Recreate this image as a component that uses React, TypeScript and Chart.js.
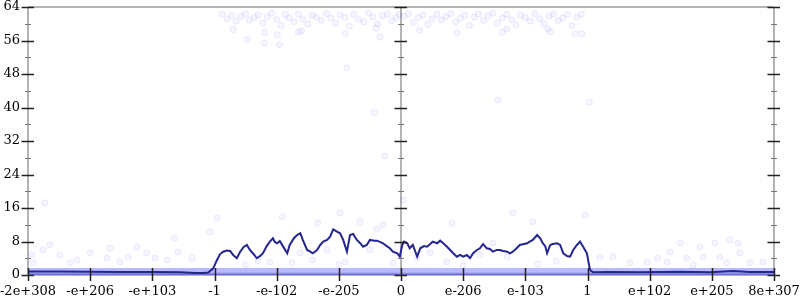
import React, { useEffect, useRef } from "react";
import { Chart, registerables } from "chart.js";
Chart.register(...registerables);

// x axis: 13 evenly spaced category ticks (positions -6..6)
const xTickLabels = ["-2e+308", "-e+206", "-e+103", "-1", "-e-102", "-e-205", "0", "e-206", "e-103", "1", "e+102", "e+205", "8e+307"];
const xTickPos = [-6, -5, -4, -3, -2, -1, 0, 1, 2, 3, 4, 5, 6];
const yMajorTicks = [0, 8, 16, 24, 32, 40, 48, 56, 64];
const yMinorTicks = [4, 12, 20, 28, 36, 44, 52, 60];

// running average line
const lineX = [-6, -5.49, -5.0, -4.52, -4.0, -3.55, -3.31, -3.18, -3.1, -3.02, -2.96, -2.91, -2.86, -2.8, -2.75, -2.7, -2.64, -2.59, -2.53, -2.48, -2.43, -2.36, -2.32, -2.27, -2.22, -2.16, -2.11, -2.06, -2.03, -1.99, -1.95, -1.9, -1.83, -1.79, -1.72, -1.67, -1.62, -1.58, -1.51, -1.46, -1.42, -1.35, -1.3, -1.25, -1.19, -1.14, -1.09, -1.03, -0.98, -0.93, -0.87, -0.82, -0.77, -0.71, -0.66, -0.61, -0.55, -0.5, -0.43, -0.39, -0.34, -0.29, -0.23, -0.18, -0.13, -0.06, -0.02, 0.02, 0.05, 0.1, 0.14, 0.19, 0.26, 0.31, 0.37, 0.42, 0.47, 0.51, 0.58, 0.63, 0.68, 0.74, 0.79, 0.84, 0.9, 0.95, 1.0, 1.06, 1.11, 1.16, 1.22, 1.27, 1.32, 1.38, 1.43, 1.48, 1.54, 1.59, 1.64, 1.71, 1.75, 1.8, 1.86, 1.91, 1.98, 2.03, 2.07, 2.12, 2.19, 2.24, 2.28, 2.32, 2.35, 2.4, 2.44, 2.51, 2.56, 2.61, 2.67, 2.72, 2.77, 2.83, 2.88, 2.93, 2.99, 3.04, 3.09, 3.36, 3.84, 4.49, 4.97, 5.34, 5.61, 6.0];
const lineY = [0.84, 0.84, 0.79, 0.72, 0.72, 0.65, 0.48, 0.48, 0.6, 1.6, 3.6, 5.0, 5.57, 5.86, 5.74, 4.78, 4.0, 5.5, 6.7, 7.17, 5.98, 4.78, 4.0, 4.5, 5.2, 6.9, 7.96, 8.77, 7.9, 7.58, 8.1, 6.9, 5.2, 7.17, 8.84, 9.56, 9.97, 8.37, 5.98, 5.57, 5.19, 5.98, 7.17, 7.96, 8.37, 9.15, 10.9, 10.35, 9.97, 8.37, 5.57, 9.56, 9.8, 8.37, 7.65, 6.76, 7.17, 8.37, 8.2, 8.2, 7.9, 7.58, 6.9, 6.38, 5.57, 5.19, 4.37, 7.17, 7.96, 7.58, 6.38, 7.17, 4.37, 6.38, 6.9, 6.76, 7.4, 7.96, 7.58, 8.2, 7.58, 6.76, 5.98, 5.19, 4.37, 4.78, 4.37, 4.78, 4.0, 5.19, 5.98, 6.38, 7.4, 6.38, 6.2, 5.57, 5.98, 5.98, 5.74, 5.57, 5.19, 5.57, 6.38, 7.17, 7.4, 7.58, 7.96, 8.37, 9.56, 8.77, 7.58, 6.9, 5.19, 7.17, 7.4, 7.58, 7.17, 5.19, 4.54, 4.37, 5.98, 7.17, 7.96, 6.76, 5.19, 1.2, 0.65, 0.72, 0.65, 0.76, 0.65, 0.96, 0.72, 0.72];

// dense band of samples near zero
const bandX = [-6, 6];
const bandTop = [1.65, 1.65];
const bandCore = [0.55, 0.55];

// individual samples (x position, value)
const topCloud: [number, number][] = [
  [-2.88, 62.3], [-2.8, 61.2], [-2.72, 62.0], [-2.65, 60.6], [-2.58, 61.8], [-2.5, 62.4], [-2.44, 60.9], [-2.36, 61.5], [-2.3, 62.1], [-2.22, 60.2],
  [-2.15, 61.7], [-2.08, 62.5], [-2.0, 61.0], [-1.93, 59.6], [-1.86, 62.2], [-1.8, 61.4], [-1.72, 60.5], [-1.65, 62.3], [-1.58, 61.1], [-1.5, 59.9],
  [-1.43, 62.0], [-1.36, 61.6], [-1.28, 60.8], [-1.2, 62.4], [-1.13, 61.3], [-1.05, 60.1], [-0.98, 62.1], [-0.9, 61.5], [-0.83, 59.4], [-0.76, 62.2],
  [-0.68, 61.0], [-0.6, 60.4], [-0.52, 62.5], [-0.45, 61.6], [-0.38, 60.0], [-0.3, 61.9], [-0.22, 62.3], [-0.15, 60.7], [-0.08, 61.4], [-0.03, 62.2],
  [0.05, 61.8], [0.12, 62.4], [0.2, 60.3], [0.28, 61.5], [0.35, 62.1], [0.43, 59.8], [0.5, 61.2], [0.58, 62.3], [0.65, 60.9], [0.72, 61.7],
  [0.8, 62.4], [0.88, 60.4], [0.95, 61.3], [1.03, 62.0], [1.1, 59.6], [1.18, 61.6], [1.25, 62.3], [1.33, 60.8], [1.4, 61.9], [1.48, 62.5],
  [1.55, 60.2], [1.63, 61.4], [1.7, 62.2], [1.78, 61.0], [1.85, 59.7], [1.92, 62.1], [2.0, 61.5], [2.08, 60.6], [2.15, 62.4], [2.23, 61.2],
  [2.3, 60.0], [2.38, 61.8], [2.45, 62.3], [2.53, 60.7], [2.6, 61.4], [2.68, 62.2], [2.75, 59.5], [2.83, 61.6], [2.9, 62.3],
  [-2.7, 58.6], [-2.2, 57.9], [-1.6, 58.3], [-0.9, 57.7], [-0.4, 58.9], [0.3, 58.4], [0.9, 57.8], [1.7, 58.7], [2.4, 58.1], [2.8, 57.6],
  [-2.47, 56.2], [-2.2, 55.4], [-1.95, 55.0], [-1.99, 57.4], [-1.65, 58.0], [-0.34, 56.9], [1.63, 58.0], [2.91, 57.6], [2.36, 58.8],
];
const midCloud: [number, number][] = [
  [-0.87, 49.5], [1.56, 41.8], [3.03, 41.3], [-0.43, 38.8], [-0.26, 28.4], [0.03, 17.9], [-0.29, 12.0], [-0.39, 11.0], [-5.73, 17.2],
  [-1.91, 13.9], [-0.98, 14.8], [-0.66, 12.7], [-1.34, 12.4], [0.82, 12.4], [1.8, 14.8], [2.96, 14.3], [2.12, 12.7], [-2.96, 13.6], [-3.07, 10.3],
];
const lowCloud: [number, number][] = [
  [-5.65, 7.2], [-5.76, 6.0], [-5.49, 4.8], [-4.68, 6.4], [-4.25, 6.7], [-4.09, 5.3], [-3.64, 8.8], [-3.59, 5.5], [-5.0, 5.3], [-4.73, 4.0],
  [-4.52, 3.1], [-3.76, 3.6], [-5.21, 3.6], [-5.94, 4.8], [-5.92, 2.9], [-5.32, 2.9], [-3.36, 4.0], [-3.96, 4.0], [-4.39, 4.3],
  [-1.62, 5.3], [-1.19, 6.0], [-0.5, 6.0], [0.26, 4.0], [0.47, 5.3], [1.27, 4.8], [1.48, 7.6], [1.71, 4.3], [-2.11, 3.1], [-0.13, 2.9],
  [0.74, 3.1], [-1.75, 2.9], [-1.43, 3.6], [-0.9, 3.1], [4.49, 7.6], [4.81, 6.7], [5.29, 8.4], [5.42, 7.6], [4.33, 5.5], [5.05, 7.6],
  [5.45, 5.3], [5.82, 3.1], [3.41, 4.3], [3.2, 4.3], [3.96, 3.1], [4.13, 4.0], [4.6, 4.0], [4.86, 4.3], [5.13, 4.3], [3.68, 2.9],
  [4.28, 3.1], [4.7, 2.4], [5.24, 2.9], [5.61, 2.9], [-2.5, 2.4], [-2.3, 3.4], [2.2, 2.6], [2.5, 3.3], [1.0, 2.2], [-1.0, 2.5],
];

const toPts = (xs: number[], ys: number[]) => xs.map((x, i) => ({ x, y: ys[i] }));
const pairs = (p: [number, number][]) => p.map(([x, y]) => ({ x, y }));

const AXIS_GRAY = "#b4b4b4";
const TICK = "#222";
const MINOR = "#777";

const axesPlugin = {
  id: "gnuAxes",
  beforeDatasetsDraw(chart: any) {
    const { ctx, chartArea: a, scales } = chart;
    const cx = scales.x.getPixelForValue(0);
    ctx.save();
    ctx.strokeStyle = AXIS_GRAY;
    ctx.lineWidth = 2;
    ctx.beginPath();
    ctx.moveTo(a.left, a.top); ctx.lineTo(a.right, a.top);
    ctx.moveTo(a.left, a.bottom); ctx.lineTo(a.right, a.bottom);
    ctx.moveTo(a.left, a.top); ctx.lineTo(a.left, a.bottom);
    ctx.moveTo(a.right, a.top); ctx.lineTo(a.right, a.bottom);
    ctx.moveTo(cx, a.top); ctx.lineTo(cx, a.bottom);
    ctx.stroke();
    ctx.restore();
  },
  afterDatasetsDraw(chart: any) {
    const { ctx, chartArea: a, scales } = chart;
    const cx = scales.x.getPixelForValue(0);
    ctx.save();
    const vAxes = [a.left, cx, a.right];
    ctx.lineWidth = 1.5;
    ctx.strokeStyle = TICK;
    ctx.beginPath();
    for (const v of yMajorTicks) {
      const y = Math.round(scales.y.getPixelForValue(v)) + 0.5;
      for (const ax of vAxes) { ctx.moveTo(ax - 6.5, y); ctx.lineTo(ax + 6, y); }
    }
    for (const p of xTickPos) {
      const x = Math.round(scales.x.getPixelForValue(p)) + 0.5;
      ctx.moveTo(x, a.bottom - 7); ctx.lineTo(x, a.bottom + 6);
    }
    ctx.stroke();
    ctx.lineWidth = 1;
    ctx.strokeStyle = MINOR;
    ctx.beginPath();
    for (const v of yMinorTicks) {
      const y = Math.round(scales.y.getPixelForValue(v)) + 0.5;
      for (const ax of vAxes) { ctx.moveTo(ax - 3, y); ctx.lineTo(ax + 3, y); }
    }
    ctx.stroke();

    ctx.fillStyle = "#000";
    ctx.font = "13px 'DejaVu Serif'";
    ctx.textAlign = "right";
    ctx.textBaseline = "middle";
    for (const v of yMajorTicks) {
      ctx.fillText(String(v), a.left - 8, scales.y.getPixelForValue(v));
    }
    ctx.textAlign = "center";
    ctx.textBaseline = "alphabetic";
    xTickPos.forEach((p, i) => {
      const x = scales.x.getPixelForValue(p);
      ctx.fillText(xTickLabels[i], x, a.bottom + 20);
    });
    ctx.restore();
  },
};

const dotStyle = {
  type: "scatter" as const,
  pointRadius: 3,
  pointBackgroundColor: "rgba(70,70,255,0.05)",
  pointBorderColor: "rgba(70,70,255,0.10)",
  pointBorderWidth: 1,
  showLine: false,
  order: 1,
};

export default function App() {
  const ref = useRef<HTMLCanvasElement>(null);
  useEffect(() => {
    document.body.style.margin = "0";
    const chart = new Chart(ref.current!, {
      type: "line",
      data: {
        datasets: [
          {
            type: "line",
            data: toPts(lineX, lineY),
            borderColor: "#25258f",
            borderWidth: 2,
            pointRadius: 0,
            fill: false,
            tension: 0,
            order: 0,
          } as any,
          { ...dotStyle, data: pairs(topCloud) },
          { ...dotStyle, data: pairs(midCloud) },
          { ...dotStyle, data: pairs(lowCloud) },
          {
            type: "line",
            data: toPts(bandX, bandTop),
            borderWidth: 0,
            pointRadius: 0,
            fill: "origin",
            backgroundColor: "rgba(100,100,255,0.45)",
            order: 3,
          } as any,
          {
            type: "line",
            data: toPts(bandX, bandCore),
            borderWidth: 0,
            pointRadius: 0,
            fill: "origin",
            backgroundColor: "rgba(50,50,220,0.35)",
            order: 2,
          } as any,
        ],
      },
      options: {
        animation: false,
        responsive: false,
        layout: { padding: { left: 28, right: 26, top: 7, bottom: 25 } },
        scales: {
          x: { type: "linear", min: -6, max: 6, display: false },
          y: { type: "linear", min: 0, max: 64, display: false },
        },
        plugins: { legend: { display: false }, tooltip: { enabled: false } },
      },
      plugins: [axesPlugin],
    });
    return () => chart.destroy();
  }, []);
  return (
    <div style={{ width: 800, height: 300 }}>
      <canvas ref={ref} width={800} height={300} />
    </div>
  );
}
